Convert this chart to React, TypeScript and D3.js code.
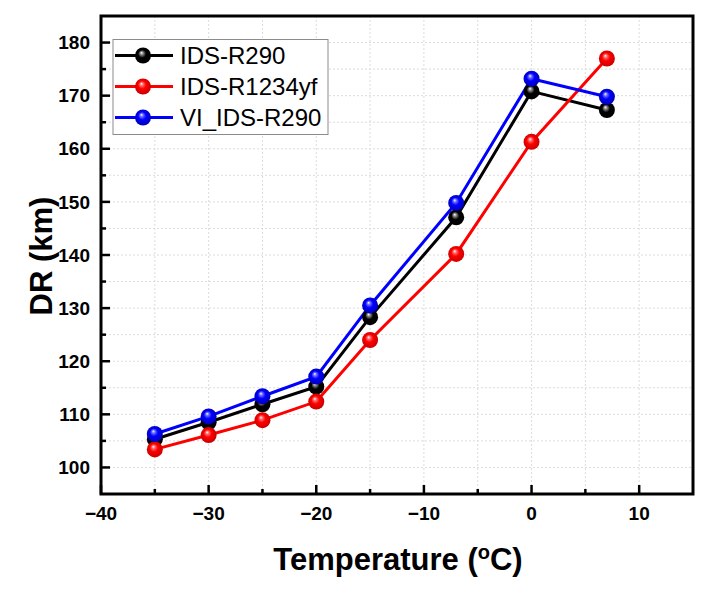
import * as d3 from "d3";
import { useEffect, useRef } from "react";

const temps = [-35, -30, -25, -20, -15, -7, 0, 7];
const idsR290 = [105.3, 108.5, 111.9, 115.2, 128.3, 147.1, 170.8, 167.3];
const idsR1234yf = [103.4, 106.1, 108.9, 112.4, 124.0, 140.2, 161.3, 177.0];
const viIdsR290 = [106.3, 109.6, 113.4, 117.1, 130.5, 149.8, 173.2, 169.8];
const seriesNames = ["IDS-R290", "IDS-R1234yf", "VI_IDS-R290"];
const seriesColors = ["#000000", "#ff0000", "#0000ff"];
const xTicks = [-40, -30, -20, -10, 0, 10];
const yTicks = [100, 110, 120, 130, 140, 150, 160, 170, 180];

const width = 710;
const height = 593;
const marginLeft = 101;
const marginRight = 17;
const marginTop = 16;
const marginBottom = 99;

export default function App() {
  const svgRef = useRef<SVGSVGElement>(null);

  useEffect(() => {
    if (!svgRef.current) return;
    const svg = d3.select(svgRef.current);
    svg.selectAll("*").remove();

    const x = d3.scaleLinear().domain([-40, 15]).range([marginLeft, width - marginRight]);
    const y = d3.scaleLinear().domain([95, 185]).range([height - marginBottom, marginTop]);
    const font = "'Liberation Sans', Arial, sans-serif";

    // sphere gradients
    const defs = svg.append("defs");
    const darker = ["#000000", "#c00000", "#0000b0"];
    const mids = ["#8a8a8a", "#ff7070", "#7070ff"];
    seriesColors.forEach((c, i) => {
      const g = defs.append("radialGradient")
        .attr("id", `ball${i}`)
        .attr("cx", "0.5").attr("cy", "0.5").attr("r", "0.55")
        .attr("fx", "0.4").attr("fy", "0.32");
      g.append("stop").attr("offset", "0%").attr("stop-color", "#ffffff");
      g.append("stop").attr("offset", "18%").attr("stop-color", mids[i]);
      g.append("stop").attr("offset", "45%").attr("stop-color", c);
      g.append("stop").attr("offset", "100%").attr("stop-color", darker[i]);
    });

    // grid, every 5 units
    const gridX = d3.range(-35, 15, 5);
    const gridY = d3.range(100, 185, 5);
    svg.append("g").selectAll("line").data(gridX).enter().append("line")
      .attr("x1", d => x(d)).attr("x2", d => x(d))
      .attr("y1", marginTop).attr("y2", height - marginBottom)
      .attr("stroke", "#dcdcdc").attr("stroke-width", 1).attr("stroke-dasharray", "2,2");
    svg.append("g").selectAll("line").data(gridY).enter().append("line")
      .attr("x1", marginLeft).attr("x2", width - marginRight)
      .attr("y1", d => y(d)).attr("y2", d => y(d))
      .attr("stroke", "#dcdcdc").attr("stroke-width", 1).attr("stroke-dasharray", "2,2");

    // lines and markers
    const allSeries = [idsR290, idsR1234yf, viIdsR290];
    const line = d3.line<number>().x((_, i) => x(temps[i])).y(d => y(d));
    allSeries.forEach((s, i) => {
      svg.append("path")
        .datum(s)
        .attr("fill", "none")
        .attr("stroke", seriesColors[i])
        .attr("stroke-width", 3)
        .attr("d", line);
    });
    allSeries.forEach((s, i) => {
      svg.append("g").selectAll("circle").data(s).enter().append("circle")
        .attr("cx", (_, j) => x(temps[j]))
        .attr("cy", d => y(d))
        .attr("r", 8)
        .attr("fill", `url(#ball${i})`);
    });

    // ticks
    const xMinor = d3.range(-35, 15, 10);
    const yMinor = d3.range(105, 185, 10);
    const xb = height - marginBottom;
    svg.append("g").selectAll("line").data(xTicks).enter().append("line")
      .attr("x1", d => x(d)).attr("x2", d => x(d))
      .attr("y1", xb).attr("y2", xb - 9)
      .attr("stroke", "#000").attr("stroke-width", 2.5);
    svg.append("g").selectAll("line").data(xMinor).enter().append("line")
      .attr("x1", d => x(d)).attr("x2", d => x(d))
      .attr("y1", xb).attr("y2", xb - 5)
      .attr("stroke", "#000").attr("stroke-width", 2.5);
    svg.append("g").selectAll("line").data(yTicks).enter().append("line")
      .attr("x1", marginLeft).attr("x2", marginLeft + 9)
      .attr("y1", d => y(d)).attr("y2", d => y(d))
      .attr("stroke", "#000").attr("stroke-width", 2.5);
    svg.append("g").selectAll("line").data(yMinor).enter().append("line")
      .attr("x1", marginLeft).attr("x2", marginLeft + 5)
      .attr("y1", d => y(d)).attr("y2", d => y(d))
      .attr("stroke", "#000").attr("stroke-width", 2.5);

    // frame
    svg.append("rect")
      .attr("x", marginLeft).attr("y", marginTop)
      .attr("width", width - marginLeft - marginRight)
      .attr("height", height - marginTop - marginBottom)
      .attr("fill", "none").attr("stroke", "#000").attr("stroke-width", 3);

    // tick labels
    svg.append("g").selectAll("text").data(xTicks).enter().append("text")
      .attr("x", d => x(d)).attr("y", 520)
      .attr("text-anchor", "middle")
      .attr("font-family", font).attr("font-weight", "bold").attr("font-size", 19)
      .text(d => (d < 0 ? "\u2212" + Math.abs(d) : String(d)));
    svg.append("g").selectAll("text").data(yTicks).enter().append("text")
      .attr("x", 90).attr("y", d => y(d)).attr("dy", "0.35em")
      .attr("text-anchor", "end")
      .attr("font-family", font).attr("font-weight", "bold").attr("font-size", 19)
      .text(d => String(d));

    // axis titles
    const xt = svg.append("text")
      .attr("x", 398).attr("y", 570)
      .attr("text-anchor", "middle")
      .attr("font-family", font).attr("font-weight", "bold").attr("font-size", 31);
    xt.append("tspan").text("Temperature (");
    xt.append("tspan").attr("font-size", 20).attr("dy", -11).text("o");
    xt.append("tspan").attr("dy", 11).text("C)");

    svg.append("text")
      .attr("transform", `translate(52,256) rotate(-90)`)
      .attr("text-anchor", "middle")
      .attr("font-family", font).attr("font-weight", "bold").attr("font-size", 31)
      .text("DR (km)");

    // legend
    const lg = svg.append("g");
    lg.append("rect")
      .attr("x", 113).attr("y", 39.5).attr("width", 215).attr("height", 95)
      .attr("fill", "#fff").attr("stroke", "#8c8c8c").attr("stroke-width", 1);
    seriesNames.forEach((name, i) => {
      const yy = 55.5 + i * 31;
      lg.append("line")
        .attr("x1", 115).attr("x2", 173).attr("y1", yy).attr("y2", yy)
        .attr("stroke", seriesColors[i]).attr("stroke-width", 3);
      lg.append("circle")
        .attr("cx", 143).attr("cy", yy).attr("r", 8)
        .attr("fill", `url(#ball${i})`);
      lg.append("text")
        .attr("x", 180).attr("y", yy).attr("dy", "0.35em")
        .attr("font-family", font).attr("font-size", 24)
        .text(name);
    });
  }, []);

  return (
    <svg
      ref={svgRef}
      width={width}
      height={height}
      style={{ position: "absolute", left: 0, top: 0, background: "#fff" }}
    />
  );
}
